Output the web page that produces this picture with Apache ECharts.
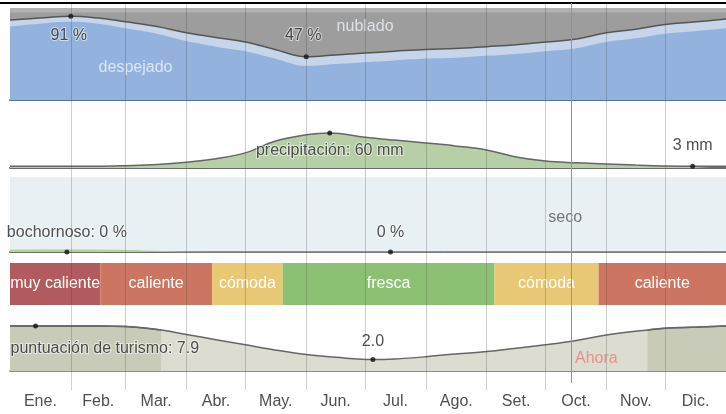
<!DOCTYPE html>
<html>
<head>
<meta charset="utf-8">
<script src="https://cdn.jsdelivr.net/npm/echarts@6/dist/echarts.min.js"></script>
<style>
  html, body { margin: 0; padding: 0; background: #fff; }
  #chart { width: 726px; height: 414px; }
</style>
</head>
<body>
<div id="chart"></div>
<script>
const FONT = "'Liberation Sans', Arial, sans-serif";

// eje de días del año
const months = ["Ene.", "Feb.", "Mar.", "Abr.", "May.", "Jun.", "Jul.", "Ago.", "Set.", "Oct.", "Nov.", "Dic."];
const monthStart = [0, 31, 59, 90, 120, 151, 181, 212, 243, 273, 304, 334, 365];
const nowDay = 286;

// nubes (% despejado)
const cloudDays = [0, 15, 31, 45, 59, 75, 90, 105, 120, 135, 151, 166, 181, 196, 212, 227, 243, 258, 273, 288, 304, 319, 334, 350, 365];
const clearPct = [87, 89, 91, 89, 85, 80, 73, 68, 63, 55, 47, 49, 51, 53, 55, 56, 58, 60, 63, 66, 73, 77, 82, 85, 88];
const despejadoPct = [80, 83, 85, 83, 78, 72, 64, 58, 53, 45, 37, 39, 41, 43, 45, 46, 48, 50, 53, 56, 63, 67, 72, 75, 78];

// precipitación (mm)
const precipDays = [0, 15, 31, 45, 59, 75, 90, 105, 120, 135, 151, 163, 181, 196, 212, 227, 243, 258, 273, 288, 304, 319, 334, 348, 365];
const precipMm = [3, 3, 3, 3, 4, 6, 10, 16, 26, 46, 57, 60, 53, 48, 43, 38, 31, 19, 12, 9, 7, 5, 3.5, 3, 3];

// bochornoso (%)
const muggyPct = [1.5, 1.6, 1.6, 1.5, 1.2, 0.5, 0.1, 0, 0, 0, 0, 0, 0, 0, 0, 0, 0, 0, 0, 0, 0, 0, 0, 0, 0];

// confort
const comfortStart = [0, 46, 103, 139, 247, 300];
const comfortEnd = [46, 103, 139, 247, 300, 365];
const comfortName = ["muy caliente", "caliente", "cómoda", "fresca", "cómoda", "caliente"];
const comfortColor = ["#b25b5e", "#cc7560", "#e8c874", "#8cc072", "#e8c874", "#cc7560"];

// puntuación de turismo
const tourDays = [0, 13, 31, 45, 59, 77, 90, 105, 120, 135, 151, 166, 185, 196, 212, 227, 243, 258, 273, 288, 304, 325, 334, 350, 365];
const tourScore = [7.9, 7.9, 7.9, 7.9, 7.8, 7.2, 6.4, 5.5, 4.6, 3.7, 2.9, 2.4, 2.0, 2.1, 2.5, 3.0, 3.4, 4.0, 4.6, 5.3, 6.3, 7.2, 7.5, 7.7, 7.9];
const bestRanges = [[0, 77], [325, 365]];

const pair = (xs, ys) => xs.map((x, i) => [x, ys[i]]);

const L = 10, W = 723;
const grids = [
  { left: L, width: W, top: 8, height: 92, show: true, backgroundColor: "#9d9d9d", borderWidth: 0 },
  { left: L, width: W, top: 104, height: 64 },
  { left: L, width: W, top: 177, height: 75, show: true, backgroundColor: "#e8f0f4", borderWidth: 0 },
  { left: L, width: W, top: 263, height: 42 },
  { left: L, width: W, top: 314, height: 57 },
  { left: L, width: W, top: 3, height: 387 },
  { left: L, width: W, top: 3, height: 380 },
];
const baseLines = [
  { color: "#56729f", width: 2 },
  { color: "#6a6a6a", width: 2 },
  { color: "#6a6a6a", width: 2 },
  null,
  { color: "#6a6a6a", width: 1.5 },
  null,
  null,
];
const yMax = [100, 110, 60, 1, 10, 1, 1];

const xAxis = grids.map((g, i) => ({
  gridIndex: i,
  type: "value",
  min: 0,
  max: 365,
  show: !!baseLines[i],
  axisLine: { show: !!baseLines[i], lineStyle: baseLines[i] || {} },
  axisTick: { show: false },
  axisLabel: { show: false },
  splitLine: { show: false },
}));
const yAxis = grids.map((g, i) => ({
  gridIndex: i,
  type: "value",
  min: 0,
  max: yMax[i],
  show: false,
}));

const textLabel = {
  show: true,
  position: "inside",
  formatter: "{b}",
  fontFamily: FONT,
  fontSize: 16,
  color: "#222",
  textBorderColor: "rgba(255,255,255,0.7)",
  textBorderWidth: 2,
};
// puntos negros con su etiqueta
const dots = (idx, data, extra) => ({
  type: "scatter",
  xAxisIndex: idx,
  yAxisIndex: idx,
  symbolSize: 5,
  itemStyle: { color: "#111" },
  label: Object.assign({}, textLabel, extra || {}),
  data: data,
  z: 4,
});
// solo texto
const words = (idx, data, extra) =>
  Object.assign(dots(idx, data, extra), { symbolSize: 0, silent: true });

const series = [
  // nubes
  {
    type: "line", xAxisIndex: 0, yAxisIndex: 0,
    data: pair(cloudDays, clearPct),
    smooth: 0.4, showSymbol: false,
    lineStyle: { color: "#555", width: 1.5 },
    areaStyle: { color: "#c6d5ea", opacity: 1 },
    markArea: {
      silent: true,
      itemStyle: { color: "#b2b2b2" },
      data: [[{ yAxis: 95 }, { yAxis: 100 }]],
    },
  },
  {
    type: "line", xAxisIndex: 0, yAxisIndex: 0,
    data: pair(cloudDays, despejadoPct),
    smooth: 0.4, showSymbol: false,
    lineStyle: { width: 0 },
    areaStyle: { color: "#93b3de", opacity: 1 },
  },
  dots(0, [
    { name: "91 %", value: [31, 91], label: { offset: [-2, 19] } },
    { name: "47 %", value: [151, 47], label: { offset: [-3, -21] } },
  ]),
  words(0, [
    { name: "despejado", value: [64, 35] },
    { name: "nublado", value: [181, 80] },
  ], { color: "#eef2f8", textBorderWidth: 0 }),

  // precipitación
  {
    type: "line", xAxisIndex: 1, yAxisIndex: 1,
    data: pair(precipDays, precipMm),
    smooth: 0.4, showSymbol: false,
    lineStyle: { color: "#666", width: 1.5 },
    areaStyle: { color: "#b6cfa6", opacity: 1 },
  },
  dots(1, [
    { name: "precipitación: 60 mm", value: [163, 60], label: { offset: [0, 18] } },
    { name: "3 mm", value: [348, 3], label: { offset: [0, -21] } },
  ]),

  // bochornoso
  {
    type: "line", xAxisIndex: 2, yAxisIndex: 2,
    data: pair(cloudDays, muggyPct),
    smooth: 0.4, showSymbol: false,
    lineStyle: { color: "#a8d08d", width: 1 },
    areaStyle: { color: "#b3d99a", opacity: 1 },
  },
  dots(2, [
    { name: "bochornoso: 0 %", value: [29, 0], label: { offset: [0, -19] } },
    { name: "0 %", value: [194, 0], label: { offset: [0, -19] } },
  ]),
  words(2, [{ name: "seco", value: [283, 27.6] }], { color: "#555", textBorderWidth: 0 }),

  // confort
  {
    type: "scatter", xAxisIndex: 3, yAxisIndex: 3,
    symbolSize: 0, data: [[0, 0]], silent: true,
    markArea: {
      silent: true,
      label: { show: true, position: "inside", color: "#fff", fontSize: 16, fontFamily: FONT },
      data: comfortStart.map((s, i) => [
        { xAxis: s, name: comfortName[i], itemStyle: { color: comfortColor[i] } },
        { xAxis: comfortEnd[i] },
      ]),
    },
  },

  // turismo
  {
    type: "line", xAxisIndex: 4, yAxisIndex: 4,
    data: pair(tourDays, tourScore),
    smooth: 0.4, showSymbol: false,
    lineStyle: { color: "#666", width: 1.5 },
    areaStyle: { color: "#dcdcd0", opacity: 1 },
  },
  ...bestRanges.map((r) => ({
    type: "line", xAxisIndex: 4, yAxisIndex: 4,
    data: pair(tourDays, tourScore).filter((p) => p[0] >= r[0] && p[0] <= r[1]),
    smooth: 0.4, showSymbol: false,
    lineStyle: { color: "#666", width: 1.5 },
    areaStyle: { color: "#c9cbb9", opacity: 1 },
  })),
  dots(4, [
    { name: "puntuación de turismo: 7.9", value: [13, 7.9], label: { align: "left", offset: [-25, 23] } },
    { name: "2.0", value: [185, 2.0], label: { offset: [0, -18] } },
  ]),

  // líneas de mes y etiquetas
  {
    type: "scatter", xAxisIndex: 5, yAxisIndex: 5,
    symbolSize: 0, silent: true, z: 6,
    data: months.map((m, i) => ({ name: m, value: [(monthStart[i] + monthStart[i + 1]) / 2, 0] })),
    label: { show: true, position: "bottom", distance: 4, formatter: "{b}", fontFamily: FONT, fontSize: 16, color: "#222" },
    markLine: {
      silent: true,
      symbol: ["none", "none"],
      label: { show: false },
      lineStyle: { color: "rgba(60,60,60,0.25)", width: 1, type: "solid" },
      data: monthStart.slice(1, 12).map((d) => ({ xAxis: d })),
    },
  },

  // ahora
  {
    type: "scatter", xAxisIndex: 6, yAxisIndex: 6,
    symbolSize: 0, silent: true, z: 6,
    data: [{ name: "Ahora", value: [nowDay, 0] }],
    label: { show: true, position: "inside", align: "left", offset: [4, -24], formatter: "{b}", fontFamily: FONT, fontSize: 16, color: "#f07a7a" },
    markLine: {
      silent: true,
      symbol: ["none", "none"],
      label: { show: false },
      lineStyle: { color: "#f26b6b", width: 1, type: "solid" },
      data: [{ xAxis: nowDay }],
    },
  },
];

const chart = echarts.init(document.getElementById("chart"));
chart.setOption({
  animation: false,
  grid: grids,
  xAxis: xAxis,
  yAxis: yAxis,
  series: series,
  graphic: [
    { type: "line", shape: { x1: 0, y1: 3, x2: 726, y2: 3 }, style: { stroke: "#000", lineWidth: 2 } },
  ],
});
</script>
</body>
</html>
